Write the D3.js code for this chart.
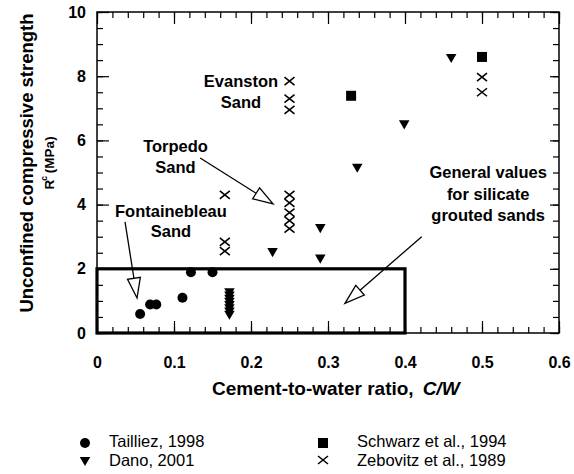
<!DOCTYPE html>
<html>
<head>
<meta charset="utf-8">
<script src="https://cdn.jsdelivr.net/npm/d3@7"></script>
<style>
  body { margin: 0; background: #fff; }
  svg text { font-family: "Liberation Sans", Arial, Helvetica, sans-serif; fill: #000; }
</style>
</head>
<body>
<svg id="chart" width="574" height="474"></svg>
<script>
// Axis ticks
const xMajor = [0, 0.1, 0.2, 0.3, 0.4, 0.5, 0.6];
const yMajor = [0, 2, 4, 6, 8, 10];
const xMinor = d3.range(0, 0.6001, 0.02);
const yMinor = d3.range(0, 10.001, 0.5);

// Unconfined compressive strength Rc (MPa) vs cement-to-water ratio C/W
const tailliez = [[0.056, 0.59], [0.069, 0.89], [0.077, 0.89], [0.111, 1.10], [0.122, 1.89], [0.150, 1.89]];
const dano = [
  [0.172, 1.3], [0.172, 1.2], [0.172, 1.1], [0.172, 1.0], [0.172, 0.9], [0.172, 0.8], [0.172, 0.7], [0.172, 0.6],
  [0.228, 2.55], [0.29, 3.3], [0.29, 2.35], [0.338, 5.18], [0.399, 6.53], [0.46, 8.6]
];
const schwarz = [[0.33, 7.39], [0.50, 8.6]];
const zebovitz = [
  [0.166, 4.3], [0.166, 2.84], [0.166, 2.55],
  [0.25, 7.85], [0.25, 7.3], [0.25, 6.95],
  [0.25, 4.3], [0.25, 4.05], [0.25, 3.75], [0.25, 3.5], [0.25, 3.25],
  [0.5, 7.97], [0.5, 7.5]
];

// Typical range for silicate grouted sands
const groutCW = [0, 0.4];
const groutRc = [0, 2];

const legendItems = [
  ["circle", "Tailliez, 1998"], ["square", "Schwarz et al., 1994"],
  ["triangle", "Dano, 2001"], ["cross", "Zebovitz et al., 1989"]
];

const svg = d3.select("#chart");
const L = 97, R = 559, T = 12, B = 333;
const x = d3.scaleLinear().domain([0, 0.6]).range([L, R]);
const y = d3.scaleLinear().domain([0, 10]).range([B, T]);

// Marker shapes
const shapes = {
  circle: d3.symbol().type(d3.symbolCircle).size(Math.PI * 25)(),
  square: d3.symbol().type(d3.symbolSquare).size(100)(),
  triangle: d3.symbol().type(d3.symbolTriangle).size(48)(),
  cross: "M-5,-4L5,4M-5,4L5,-4"
};
function marker(g, kind, px, py) {
  const p = g.append("path").attr("d", shapes[kind]);
  if (kind === "triangle") p.attr("transform", `translate(${px},${py}) rotate(180)`);
  else p.attr("transform", `translate(${px},${py})`);
  if (kind === "cross") p.attr("fill", "none").attr("stroke", "#000").attr("stroke-width", 1.6);
  else p.attr("fill", "#000");
  return p;
}

// Axes with inward ticks on all four sides
function styleAxis(g) {
  g.select(".domain").remove();
  g.selectAll("line").attr("stroke", "#000").attr("stroke-width", 1.2);
  g.selectAll("text").attr("font-size", 16).attr("font-weight", "bold")
    .attr("font-family", '"Liberation Sans", Arial, sans-serif');
}
const fmtX = d => d === 0 ? "0" : d3.format(".1f")(d);
svg.append("g").attr("transform", `translate(0,${B})`)
  .call(d3.axisBottom(x).tickValues(xMajor).tickSize(-12).tickPadding(24).tickFormat(fmtX)).call(styleAxis);
svg.append("g").attr("transform", `translate(0,${B})`)
  .call(d3.axisBottom(x).tickValues(xMinor).tickSize(-6).tickFormat("")).call(styleAxis);
svg.append("g").attr("transform", `translate(0,${T})`)
  .call(d3.axisTop(x).tickValues(xMajor).tickSize(-12).tickFormat("")).call(styleAxis);
svg.append("g").attr("transform", `translate(0,${T})`)
  .call(d3.axisTop(x).tickValues(xMinor).tickSize(-6).tickFormat("")).call(styleAxis);
svg.append("g").attr("transform", `translate(${L},0)`)
  .call(d3.axisLeft(y).tickValues(yMajor).tickSize(-12).tickPadding(11).tickFormat(d3.format("d"))).call(styleAxis);
svg.append("g").attr("transform", `translate(${L},0)`)
  .call(d3.axisLeft(y).tickValues(yMinor).tickSize(-6).tickFormat("")).call(styleAxis);
svg.append("g").attr("transform", `translate(${R},0)`)
  .call(d3.axisRight(y).tickValues(yMajor).tickSize(-9).tickFormat("")).call(styleAxis);
svg.append("g").attr("transform", `translate(${R},0)`)
  .call(d3.axisRight(y).tickValues(yMinor).tickSize(-6).tickFormat("")).call(styleAxis);

// Plot frame
svg.append("rect").attr("x", L).attr("y", T).attr("width", R - L).attr("height", B - T)
  .attr("fill", "none").attr("stroke", "#000").attr("stroke-width", 1.5);

// Silicate grout box
svg.append("rect")
  .attr("x", x(groutCW[0])).attr("y", y(groutRc[1]))
  .attr("width", x(groutCW[1]) - x(groutCW[0])).attr("height", y(groutRc[0]) - y(groutRc[1]))
  .attr("fill", "none").attr("stroke", "#000").attr("stroke-width", 3.2);

// Data markers
const pts = svg.append("g");
tailliez.forEach(d => marker(pts, "circle", x(d[0]), y(d[1])));
dano.forEach(d => marker(pts, "triangle", x(d[0]), y(d[1])));
schwarz.forEach(d => marker(pts, "square", x(d[0]), y(d[1])));
zebovitz.forEach(d => marker(pts, "cross", x(d[0]), y(d[1])));

// Annotations (positions in data units)
const ann = svg.append("g").attr("font-size", 16.5).attr("font-weight", "bold").attr("text-anchor", "middle");
function label(lines, cx, baselines) {
  lines.forEach((t, i) => ann.append("text").attr("x", x(cx)).attr("y", y(baselines[i])).text(t));
}
label(["Evanston", "Sand"], 0.187, [7.66, 7.0]);
label(["Torpedo", "Sand"], 0.102, [5.64, 4.98]);
label(["Fontainebleau", "Sand"], 0.096, [3.62, 2.98]);
label(["General values", "for silicate", "grouted sands"], 0.508, [4.83, 4.14, 3.49]);

function arrow(x1, y1, x2, y2) {
  const ax = x(x1), ay = y(y1), bx = x(x2), by = y(y2);
  const ang = Math.atan2(by - ay, bx - ax);
  const len = 20, hw = 6.5;
  const baseX = bx - len * Math.cos(ang), baseY = by - len * Math.sin(ang);
  const nx = -Math.sin(ang), ny = Math.cos(ang);
  svg.append("line").attr("x1", ax).attr("y1", ay).attr("x2", baseX).attr("y2", baseY)
    .attr("stroke", "#000").attr("stroke-width", 1.3);
  svg.append("path")
    .attr("d", `M${bx},${by}L${baseX + nx * hw},${baseY + ny * hw}L${baseX - nx * hw},${baseY - ny * hw}Z`)
    .attr("fill", "#fff").attr("stroke", "#000").attr("stroke-width", 1.3);
}
arrow(0.134, 5.45, 0.2286, 4.02);
arrow(0.0364, 3.46, 0.052, 1.09);
arrow(0.4217, 3.0, 0.322, 0.925);

// Axis titles
svg.append("text").attr("x", 212).attr("y", 395).attr("font-size", 19).attr("font-weight", "bold")
  .call(t => {
    t.append("tspan").text("Cement-to-water ratio,");
    t.append("tspan").attr("dx", 9).attr("font-style", "italic").text("C/W");
  });

const yt = svg.append("g").attr("transform", "translate(0,163)");
yt.append("text").attr("transform", "translate(33,0) rotate(-90)").attr("text-anchor", "middle")
  .attr("font-size", 18.5).attr("font-weight", "bold").text("Unconfined compressive strength");
yt.append("text").attr("transform", "translate(54,0) rotate(-90)").attr("text-anchor", "middle")
  .attr("font-size", 13.5).attr("font-weight", "bold")
  .call(t => {
    t.append("tspan").text("R");
    t.append("tspan").attr("font-size", 8.5).attr("baseline-shift", "7").attr("dx", -1).text("c");
    t.append("tspan").attr("dx", 3).text("(MPa)");
  });

// Legend
const lg = svg.append("g").attr("font-size", 16.5);
legendItems.forEach((d, i) => {
  const col = i % 2, row = Math.floor(i / 2);
  const sx = col ? 323 : 85, sy = row ? 460 : 443;
  marker(lg, d[0], sx, sy);
  lg.append("text").attr("x", col ? 357 : 109).attr("y", row ? 465.5 : 447).text(d[1]);
});
</script>
</body>
</html>
